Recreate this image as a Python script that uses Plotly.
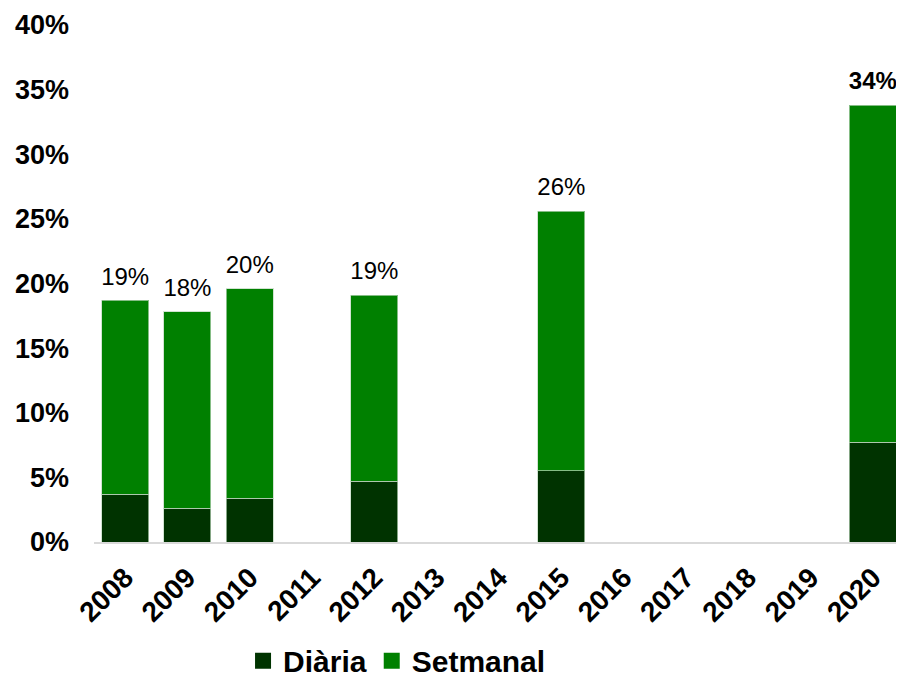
import plotly.graph_objects as go

# -----------------------------
# Daten
# -----------------------------
anys = ["2008", "2009", "2010", "2011", "2012", "2013", "2014",
        "2015", "2016", "2017", "2018", "2019", "2020"]
diaria = [3.7, 2.6, 3.4, None, 4.7, None, None, 5.5, None, None, None, None, 7.7]
setmanal = [15.0, 15.2, 16.2, None, 14.4, None, None, 20.1, None, None, None, None, 26.1]
etiquetes = ["19%", "18%", "20%", "", "19%", "", "", "26%", "", "", "", "", "<b>34%</b>"]

totals = [(d + s) if d is not None else None for d, s in zip(diaria, setmanal)]

FONT = "Liberation Sans, Arial, sans-serif"
FOSC = "#003300"
VERD = "#008000"
VORA = "rgba(190,215,190,0.7)"

fig = go.Figure()
fig.add_trace(go.Bar(x=anys, y=diaria, name="Diària", marker=dict(color=FOSC, line=dict(color=VORA, width=1)),
                     showlegend=False))
fig.add_trace(go.Bar(x=anys, y=setmanal, name="Setmanal", marker=dict(color=VERD, line=dict(color=VORA, width=1)),
                     showlegend=False))

# etiquetes de total (marcador invisible per separar el text de la barra)
fig.add_trace(go.Scatter(x=anys, y=totals, mode="markers+text", text=etiquetes, textposition="top center",
                         marker=dict(size=14, opacity=0),
                         textfont=dict(family=FONT, size=24, color="black"), showlegend=False, cliponaxis=False,
                         hoverinfo="skip"))

# llegenda amb quadrats
fig.add_trace(go.Scatter(x=[None], y=[None], mode="markers", name="Diària",
                         marker=dict(symbol="square", size=16, color=FOSC)))
fig.add_trace(go.Scatter(x=[None], y=[None], mode="markers", name="Setmanal",
                         marker=dict(symbol="square", size=16, color=VERD)))

# die Seite hat 8px Rand -> Figur etwas kleiner
fig.update_layout(
    width=896, height=678,
    margin=dict(l=86, r=0, t=17, b=144, autoexpand=False),
    barmode="stack",
    bargap=0.245,
    plot_bgcolor="white",
    paper_bgcolor="white",
    font=dict(family=FONT, color="black"),
    legend=dict(orientation="h", x=0.184, xanchor="left", y=-0.28, yanchor="bottom", traceorder="normal",
                font=dict(family=FONT, size=30, color="black", weight="bold"), itemsizing="trace",
                itemwidth=30, tracegroupgap=0),
)
fig.update_xaxes(type="category", range=[-0.5, 12.5], tickangle=-45, showgrid=False, showline=True,
                 automargin=False, linecolor="#d9d9d9", linewidth=2, ticks="", ticklabelstandoff=6,
                 tickfont=dict(family=FONT, size=28, color="black", weight="bold"))
fig.update_yaxes(range=[0, 40], dtick=5, ticksuffix="%", showgrid=False, showline=False, zeroline=False,
                 ticks="", ticklabelstandoff=24, automargin=False,
                 tickfont=dict(family=FONT, size=27, color="black", weight="bold"))

fig.write_html("out.html")
